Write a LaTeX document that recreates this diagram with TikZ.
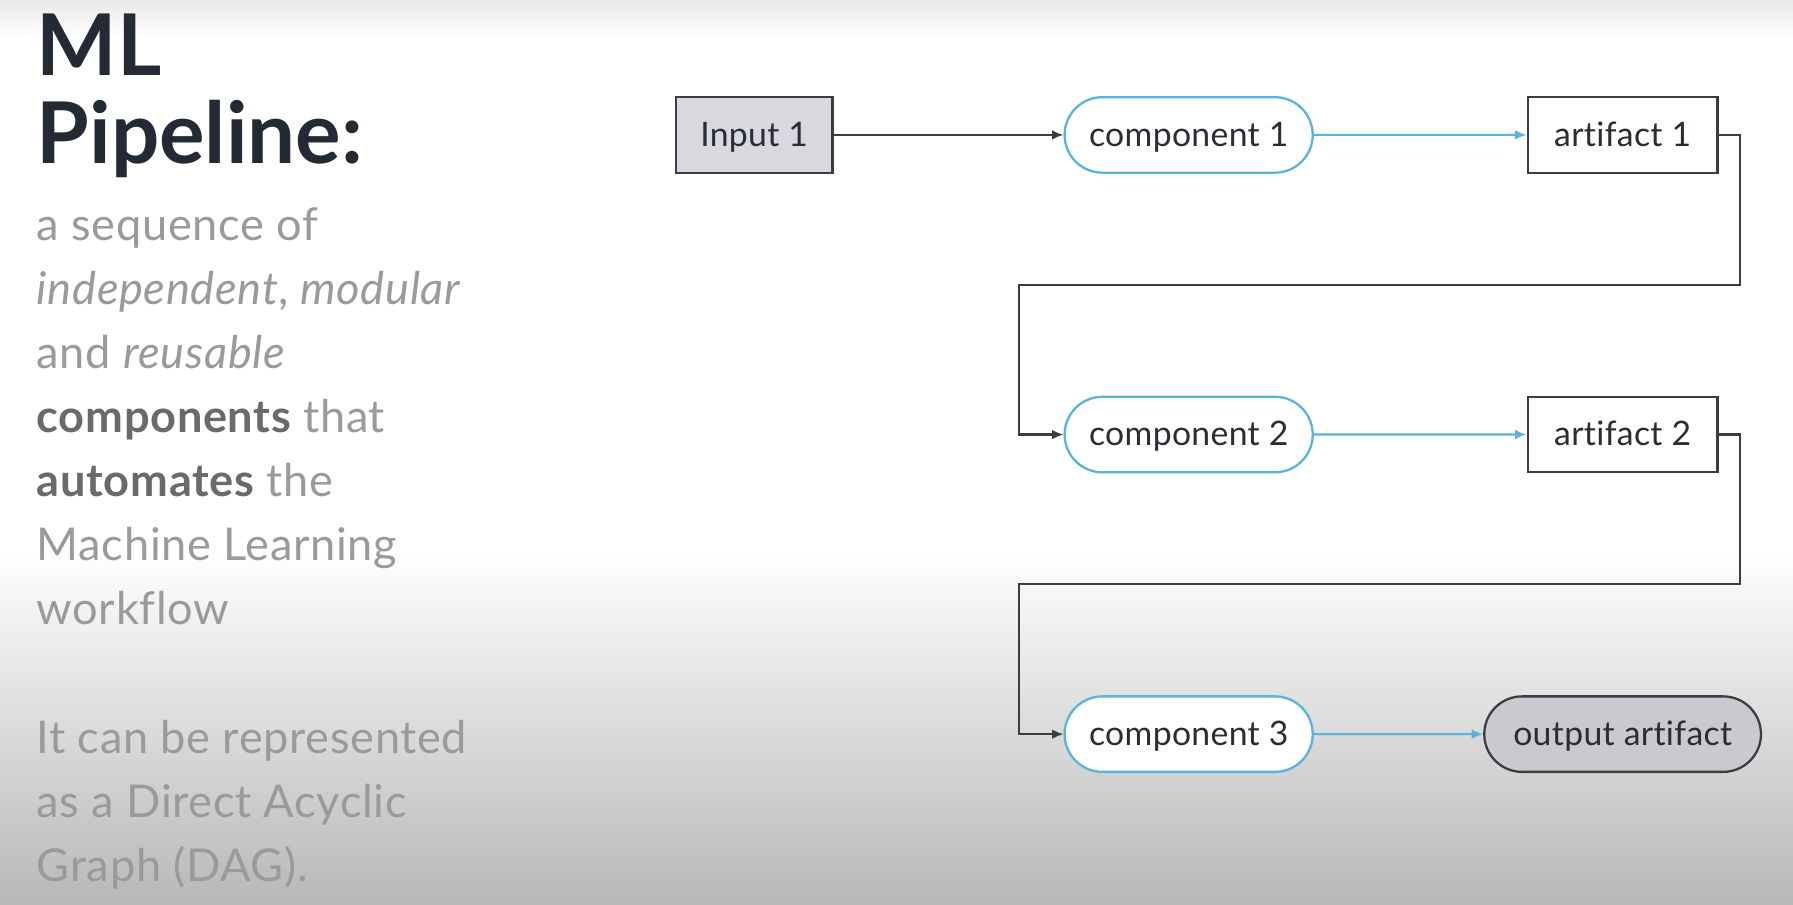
\documentclass[tikz,border=0pt]{standalone}
\usepackage{fontspec}
\setmainfont{Lato}[Ligatures=NoCommon]
\newfontfamily\bodyfont{Lato}[LetterSpace=1.5,Ligatures=NoCommon]
\newfontfamily\nodefont{Lato}[LetterSpace=1.0,Ligatures=NoCommon]
\newfontfamily\headfont{Lato}[Ligatures=NoCommon]
\usetikzlibrary{arrows.meta,shapes.misc}
\definecolor{titlec}{HTML}{232A33}
\definecolor{bodyc}{HTML}{9A9A9A}
\definecolor{boldc}{HTML}{6A6A6A}
\definecolor{edgec}{HTML}{3A3D42}
\definecolor{bluec}{HTML}{5AB2DD}
\definecolor{inputfill}{HTML}{D8D8DF}
\definecolor{outfill}{HTML}{C9C9CE}
\definecolor{txtc}{HTML}{2A2D33}
\begin{document}
\begin{tikzpicture}[x=1pt,y=-1pt,
  titletxt/.style={anchor=base west,inner sep=0,text=titlec,font=\headfont\fontsize{74.5}{78}\selectfont\bfseries},
  bodytxt/.style={anchor=base west,inner sep=0,text=bodyc,font=\bodyfont\fontsize{39.5}{56}\selectfont},
  nodebase/.style={minimum height=66pt,inner sep=0,text height=24pt,text depth=4pt,text=txtc,font=\nodefont\fontsize{29.5}{32}\selectfont,line width=2pt},
  rectbox/.style={nodebase,rectangle,draw=edgec},
  compbox/.style={nodebase,rounded rectangle,draw=bluec,fill=white,minimum width=217pt},
  outbox/.style={nodebase,rounded rectangle,draw=edgec,fill=outfill,minimum width=242pt},
  darkarrow/.style={draw=edgec,line width=1.8pt,-{Latex[length=10pt,width=8.5pt]}},
  bluearrow/.style={draw=bluec,line width=1.8pt,-{Latex[length=10pt,width=8.5pt]}}
]
% background
\fill[white] (0,0) rectangle (1568,791);
\shade[top color=white,bottom color=white!72!black] (0,480) rectangle (1568,791);
\shade[top color=black!9,bottom color=white] (0,0) rectangle (1568,32);
\useasboundingbox (0,0) rectangle (1568,791);

% left text
\node[titletxt] (t1) at (32,66) {ML};
\node[titletxt] (t2) at (32,143) {Pipeline:};
\node[bodytxt] (b1) at (32,210) {a sequence of};
\node[bodytxt] (b2) at (32,266) {\itshape independent\upshape, \itshape modular};
\node[bodytxt] (b3) at (32,322) {and \itshape reusable};
\node[bodytxt] (b4) at (32,378) {\textcolor{boldc}{\bfseries components} that};
\node[bodytxt] (b5) at (32,434) {\textcolor{boldc}{\bfseries automates} the};
\node[bodytxt] (b6) at (32,490) {Machine Learning};
\node[bodytxt] (b7) at (32,546) {workflow};
\node[bodytxt] (b8) at (32,659) {It can be represented};
\node[bodytxt] (b9) at (32,715) {as a Direct Acyclic};
\node[bodytxt] (b10) at (32,771) {Graph (DAG).};

% diagram nodes
\node[rectbox,fill=inputfill,minimum width=137pt] (in1) at (659.5,118) {Input 1};
\node[compbox] (c1) at (1039.5,118) {component 1};
\node[rectbox,fill=white,minimum width=166pt] (a1) at (1419,118) {artifact 1};
\node[compbox] (c2) at (1039.5,380) {component 2};
\node[rectbox,fill=white,minimum width=166pt] (a2) at (1419,380) {artifact 2};
\node[compbox] (c3) at (1039.5,642) {component 3};
\node[outbox] (out) at (1419,642) {output artifact};

\coordinate (r1) at (1522,249);
\coordinate (l1) at (891,249);
\coordinate (r2) at (1522,511);
\coordinate (l2) at (891,511);

% connectors
\draw[darkarrow] (in1) -- (c1);
\draw[bluearrow] (c1) -- (a1);
\draw[darkarrow] (a1.east) -| (r1) -- (l1) |- (c2.west);
\draw[bluearrow] (c2) -- (a2);
\draw[darkarrow] (a2.east) -| (r2) -- (l2) |- (c3.west);
\draw[bluearrow] (c3) -- (out);
\end{tikzpicture}
\end{document}
